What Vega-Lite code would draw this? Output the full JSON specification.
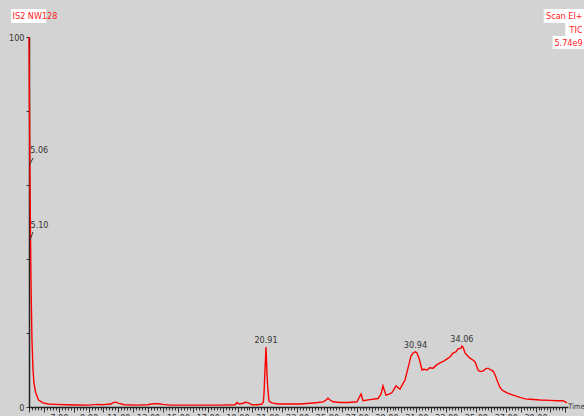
{
  "$schema": "https://vega.github.io/schema/vega-lite/v6.json",
  "width": 539,
  "height": 370,
  "autosize": {"type": "none"},
  "padding": {"left": 29, "top": 37, "right": 16, "bottom": 9},
  "background": "#d3d3d3",
  "config": {"view": {"stroke": null}, "font": "DejaVu Sans Condensed, Liberation Sans, sans-serif"},
  "datasets": {
    "trace": [
      {"t": 5.00, "p": 100}, {"t": 5.03, "p": 82}, {"t": 5.06, "p": 66}, {"t": 5.08, "p": 55},
      {"t": 5.10, "p": 46.5}, {"t": 5.14, "p": 32}, {"t": 5.20, "p": 18}, {"t": 5.27, "p": 10},
      {"t": 5.33, "p": 6.5}, {"t": 5.44, "p": 4.0}, {"t": 5.64, "p": 1.9}, {"t": 5.94, "p": 1.1},
      {"t": 6.30, "p": 0.8}, {"t": 6.75, "p": 0.7}, {"t": 7.50, "p": 0.6}, {"t": 8.09, "p": 0.55},
      {"t": 9.00, "p": 0.5}, {"t": 9.57, "p": 0.7}, {"t": 9.97, "p": 0.6}, {"t": 10.50, "p": 0.8},
      {"t": 10.64, "p": 1.2}, {"t": 10.84, "p": 1.3}, {"t": 11.04, "p": 1.0}, {"t": 11.40, "p": 0.6},
      {"t": 12.30, "p": 0.5}, {"t": 12.99, "p": 0.6}, {"t": 13.20, "p": 0.8}, {"t": 13.46, "p": 0.9},
      {"t": 13.80, "p": 0.8}, {"t": 14.00, "p": 0.7}, {"t": 14.50, "p": 0.5}, {"t": 15.14, "p": 0.5},
      {"t": 16.48, "p": 0.5}, {"t": 17.82, "p": 0.5}, {"t": 18.83, "p": 0.6}, {"t": 18.96, "p": 1.2},
      {"t": 19.10, "p": 0.8}, {"t": 19.40, "p": 1.0}, {"t": 19.50, "p": 1.3}, {"t": 19.70, "p": 1.2},
      {"t": 19.97, "p": 0.6}, {"t": 20.37, "p": 0.6}, {"t": 20.64, "p": 0.8}, {"t": 20.73, "p": 1.4},
      {"t": 20.78, "p": 4.0}, {"t": 20.84, "p": 10.0}, {"t": 20.91, "p": 16.2}, {"t": 20.98, "p": 8.5},
      {"t": 21.02, "p": 5.5}, {"t": 21.11, "p": 1.6}, {"t": 21.29, "p": 1.1}, {"t": 21.72, "p": 0.8},
      {"t": 22.52, "p": 0.8}, {"t": 23.19, "p": 0.8}, {"t": 23.86, "p": 1.0}, {"t": 24.40, "p": 1.2},
      {"t": 24.74, "p": 1.4}, {"t": 24.94, "p": 1.9}, {"t": 25.07, "p": 2.4}, {"t": 25.21, "p": 1.9},
      {"t": 25.41, "p": 1.4}, {"t": 25.88, "p": 1.2}, {"t": 26.41, "p": 1.2}, {"t": 27.02, "p": 1.4},
      {"t": 27.15, "p": 2.5}, {"t": 27.29, "p": 3.5}, {"t": 27.42, "p": 1.7}, {"t": 27.89, "p": 2.0},
      {"t": 28.43, "p": 2.3}, {"t": 28.63, "p": 3.5}, {"t": 28.76, "p": 5.7}, {"t": 28.96, "p": 3.2},
      {"t": 29.17, "p": 3.5}, {"t": 29.37, "p": 3.9}, {"t": 29.64, "p": 5.7}, {"t": 29.90, "p": 4.8},
      {"t": 30.11, "p": 6.4}, {"t": 30.24, "p": 7.3}, {"t": 30.44, "p": 10.5}, {"t": 30.64, "p": 13.8},
      {"t": 30.78, "p": 14.6}, {"t": 30.94, "p": 14.9}, {"t": 31.04, "p": 14.6}, {"t": 31.18, "p": 13.2},
      {"t": 31.38, "p": 10.0}, {"t": 31.51, "p": 10.2}, {"t": 31.72, "p": 10.0}, {"t": 31.90, "p": 10.6},
      {"t": 32.12, "p": 10.5}, {"t": 32.35, "p": 11.3}, {"t": 32.59, "p": 11.9}, {"t": 32.80, "p": 12.3},
      {"t": 33.06, "p": 13.0}, {"t": 33.25, "p": 13.5}, {"t": 33.46, "p": 14.6}, {"t": 33.65, "p": 14.9},
      {"t": 33.80, "p": 15.7}, {"t": 34.00, "p": 15.9}, {"t": 34.06, "p": 16.5}, {"t": 34.13, "p": 16.2},
      {"t": 34.27, "p": 14.6}, {"t": 34.45, "p": 13.8}, {"t": 34.60, "p": 13.2}, {"t": 34.80, "p": 12.7},
      {"t": 34.94, "p": 12.2}, {"t": 35.14, "p": 10.0}, {"t": 35.30, "p": 9.6}, {"t": 35.47, "p": 9.7},
      {"t": 35.65, "p": 10.3}, {"t": 35.81, "p": 10.5}, {"t": 36.00, "p": 10.0}, {"t": 36.15, "p": 9.7},
      {"t": 36.30, "p": 8.6}, {"t": 36.41, "p": 7.3}, {"t": 36.60, "p": 5.4}, {"t": 36.75, "p": 4.6},
      {"t": 37.08, "p": 3.8}, {"t": 37.49, "p": 3.2}, {"t": 37.96, "p": 2.6}, {"t": 38.30, "p": 2.2},
      {"t": 38.63, "p": 2.1}, {"t": 39.30, "p": 1.9}, {"t": 39.97, "p": 1.8}, {"t": 40.44, "p": 1.7},
      {"t": 40.84, "p": 1.7}, {"t": 41.00, "p": 1.4}, {"t": 41.11, "p": 1.1}
    ],
    "boxes": [
      {"t": 3.80, "t2": 6.15, "p": 107.6, "p2": 103.8},
      {"t": 39.55, "t2": 42.25, "p": 107.6, "p2": 103.8},
      {"t": 41.0, "t2": 42.25, "p": 103.8, "p2": 100.3},
      {"t": 40.15, "t2": 42.25, "p": 100.3, "p2": 96.8}
    ],
    "slashes": [
      {"t": 5.03, "t2": 5.27, "p": 65.4, "p2": 67.3},
      {"t": 5.06, "t2": 5.27, "p": 45.1, "p2": 47.3}
    ],
    "peaks": [
      {"t": 20.91, "p": 16.2, "label": "20.91"},
      {"t": 30.94, "p": 14.9, "label": "30.94"},
      {"t": 34.06, "p": 16.5, "label": "34.06"}
    ],
    "leftpeaks": [
      {"t": 5.08, "p": 68.0, "label": "5.06"},
      {"t": 5.10, "p": 47.8, "label": "5.10"}
    ],
    "cornerLeft": [
      {"t": 3.90, "p": 105.7, "label": "IS2 NW128"}
    ],
    "cornerRight": [
      {"t": 42.16, "p": 105.7, "label": "Scan EI+"},
      {"t": 42.16, "p": 102.0, "label": "TIC"},
      {"t": 42.16, "p": 98.5, "label": "5.74e9"}
    ],
    "timeLabel": [{"t": 41.2, "p": 0, "label": "Time"}]
  },
  "layer": [
    {
      "data": {"name": "trace"},
      "mark": {"type": "line", "color": "#ff0000", "strokeWidth": 1.4},
      "encoding": {
        "x": {
          "field": "t", "type": "quantitative",
          "scale": {"domain": [5.0, 41.18], "nice": false, "zero": false},
          "axis": {
            "title": null, "grid": false, "tickCount": 180,
            "domainColor": "#222222", "domainWidth": 1.5,
            "tickColor": "#333333", "tickWidth": 1,
            "tickSize": {"condition": {"test": "round(datum.value*10) % 10 == 0", "value": 5}, "value": 3},
            "labelExpr": "(round(datum.value*10) % 20 == 10 && datum.value > 6 && datum.value < 40) ? format(datum.value, '.2f') : ''",
            "labelOverlap": false, "labelFlush": false,
            "labelFontSize": 9, "labelColor": "#333333", "labelBaseline": "top", "labelPadding": 1
          }
        },
        "y": {
          "field": "p", "type": "quantitative",
          "scale": {"domain": [0, 100], "nice": false},
          "axis": {
            "title": null, "grid": false,
            "values": [0, 10, 20, 30, 40, 50, 60, 70, 80, 90, 100],
            "domainColor": "#222222", "domainWidth": 1.5,
            "tickColor": "#333333", "tickSize": 3,
            "labelExpr": "datum.value == 100 ? '100' : datum.value == 50 ? '%' : datum.value == 0 ? '0' : ''",
            "labelOverlap": false, "labelFlush": false,
            "labelFontSize": 9, "labelColor": "#333333", "labelPadding": 2
          }
        }
      }
    },
    {
      "data": {"name": "boxes"},
      "mark": {"type": "rect", "color": "white"},
      "encoding": {
        "x": {"field": "t", "type": "quantitative"},
        "x2": {"field": "t2"},
        "y": {"field": "p", "type": "quantitative"},
        "y2": {"field": "p2"}
      }
    },
    {
      "data": {"name": "slashes"},
      "mark": {"type": "rule", "color": "#333333", "strokeWidth": 1},
      "encoding": {
        "x": {"field": "t", "type": "quantitative"},
        "x2": {"field": "t2"},
        "y": {"field": "p", "type": "quantitative"},
        "y2": {"field": "p2"}
      }
    },
    {
      "data": {"name": "peaks"},
      "mark": {"type": "text", "color": "#333333", "fontSize": 9, "baseline": "bottom", "dy": -2},
      "encoding": {
        "x": {"field": "t", "type": "quantitative"},
        "y": {"field": "p", "type": "quantitative"},
        "text": {"field": "label"}
      }
    },
    {
      "data": {"name": "leftpeaks"},
      "mark": {"type": "text", "color": "#333333", "fontSize": 9, "baseline": "bottom", "align": "left"},
      "encoding": {
        "x": {"field": "t", "type": "quantitative"},
        "y": {"field": "p", "type": "quantitative"},
        "text": {"field": "label"}
      }
    },
    {
      "data": {"name": "cornerLeft"},
      "mark": {"type": "text", "color": "#ff2020", "fontSize": 9, "baseline": "middle", "align": "left"},
      "encoding": {
        "x": {"field": "t", "type": "quantitative"},
        "y": {"field": "p", "type": "quantitative"},
        "text": {"field": "label"}
      }
    },
    {
      "data": {"name": "cornerRight"},
      "mark": {"type": "text", "color": "#ff2020", "fontSize": 9, "baseline": "middle", "align": "right"},
      "encoding": {
        "x": {"field": "t", "type": "quantitative"},
        "y": {"field": "p", "type": "quantitative"},
        "text": {"field": "label"}
      }
    },
    {
      "data": {"name": "timeLabel"},
      "mark": {"type": "text", "color": "#333333", "fontSize": 7.5, "baseline": "middle", "align": "left"},
      "encoding": {
        "x": {"field": "t", "type": "quantitative"},
        "y": {"field": "p", "type": "quantitative"},
        "text": {"field": "label"}
      }
    }
  ]
}
